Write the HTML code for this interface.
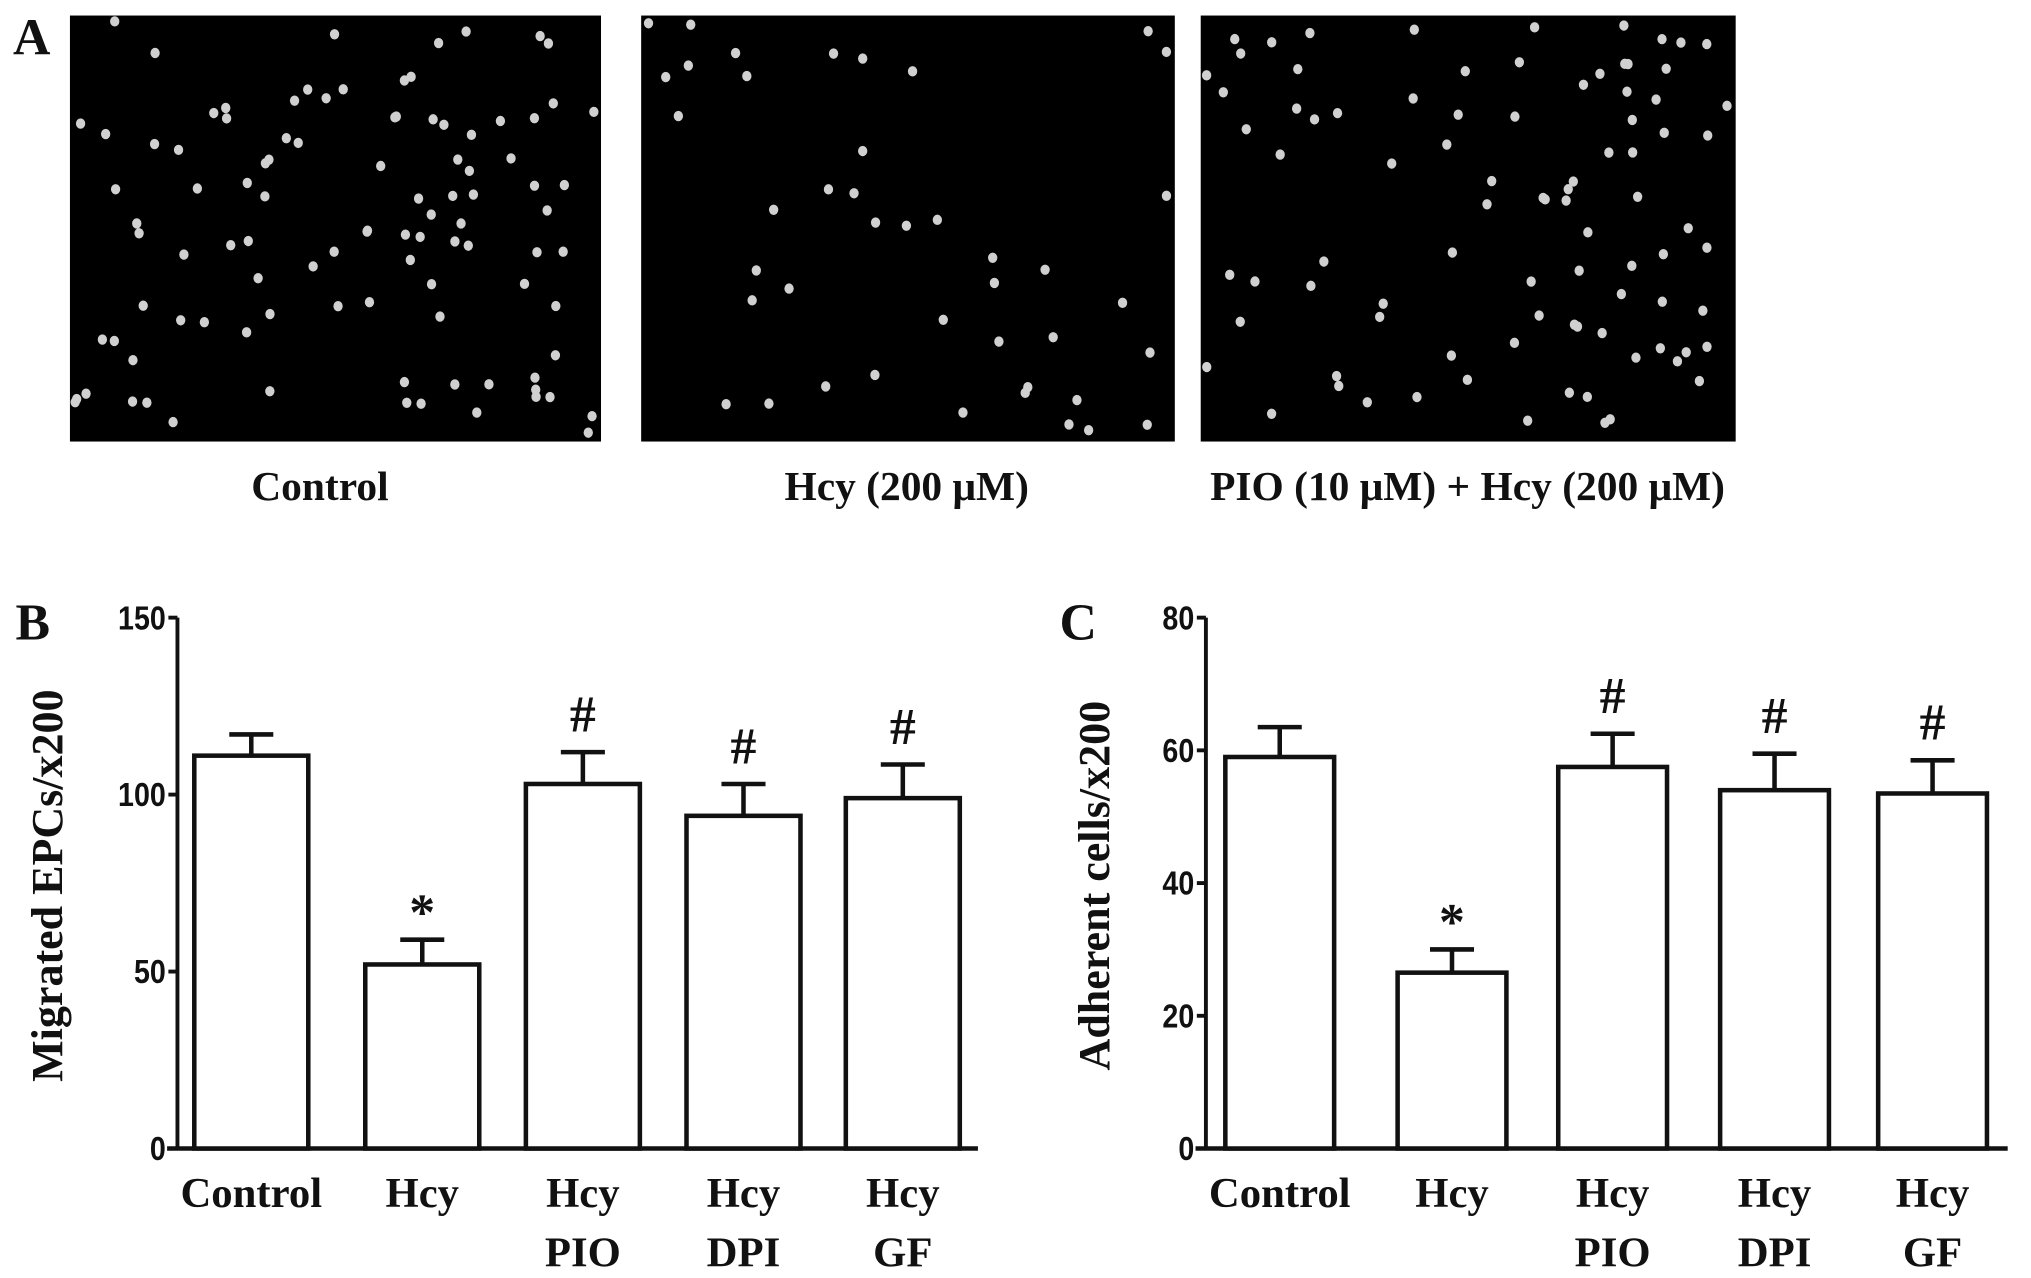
<!DOCTYPE html>
<html><head><meta charset="utf-8"><style>
html,body{margin:0;padding:0;background:#fff;}
svg{display:block;}
text{font-family:"Liberation Serif",serif;font-weight:bold;fill:#111;}
.tick{font-family:"Liberation Sans",sans-serif;font-weight:bold;font-size:26px;}
</style></head><body>
<svg id="fig" width="2031" height="1278" viewBox="0 0 1568 987" preserveAspectRatio="none" xmlns="http://www.w3.org/2000/svg">
<g id="panelA">
<text x="10" y="42" font-size="40">A</text>
<rect x="54" y="12" width="410" height="329" fill="#000"/>
<rect x="495" y="12" width="412" height="329" fill="#000"/>
<rect x="927" y="12" width="413" height="329" fill="#000"/>
<g id="dots"></g>
<text x="247" y="386" font-size="32" text-anchor="middle">Control</text>
<text x="700" y="386" font-size="32" text-anchor="middle">Hcy (200 μM)</text>
<text x="1133" y="386" font-size="32" text-anchor="middle">PIO (10 μM) + Hcy (200 μM)</text>
</g>
<g id="chartB"></g>
<g id="chartC"></g>
</svg>
<script>
const NS="http://www.w3.org/2000/svg";
const categories=["Control","Hcy","Hcy|PIO","Hcy|DPI","Hcy|GF"];
const migratedValues=[111,52,103,94,99];
const migratedErrors=[6,7,9,9,9.5];
const migratedTicks=[0,50,100,150];
const migratedMarks=["","*","#","#","#"];
const adherentValues=[59,26.5,57.5,54,53.5];
const adherentErrors=[4.5,3.5,5,5.5,5];
const adherentTicks=[0,20,40,60,80];
const adherentMarks=["","*","#","#","#"];

function mk(tag,attrs,parent){const e=document.createElementNS(NS,tag);for(const k in attrs)e.setAttribute(k,attrs[k]);parent.appendChild(e);return e;}

let seed=7;function rnd(){seed=(seed*16807)%2147483647;return seed/2147483647;}
const dg=document.getElementById('dots');
[[54,464,100],[495,907,42],[927,1340,88]].forEach(([x0,x1,n])=>{
  for(let i=0;i<n;i++){const c=mk('ellipse',{cx:x0+4+rnd()*(x1-x0-8),cy:16+rnd()*320,rx:3.6,ry:4,fill:'#d0d0d0'},dg);
  
  }
});

function chart(gid,cfg){
  const g=document.getElementById(gid);
  const ax=cfg.axisX, y0=887, yTop=477, max=cfg.ticks[cfg.ticks.length-1];
  const yS=v=>y0-(v/max)*(y0-yTop);
  const xS=i=>cfg.centers[i];
  const lab=mk('text',{x:cfg.letterX,y:494,'font-size':40},g);lab.textContent=cfg.letter;
  
  
  const yl=mk('line',{x1:ax,y1:yTop,x2:ax,y2:y0,stroke:'#111','stroke-width':3},g);
  
  
  const xl=mk('line',{x1:ax-8,y1:y0,x2:cfg.axisEnd,y2:y0,stroke:'#111','stroke-width':3.5},g);
  
  
  cfg.ticks.forEach(t=>{
    const tl=mk('line',{x1:ax-7,y1:yS(t),x2:ax,y2:yS(t),stroke:'#111','stroke-width':3},g);
    
    
    const tt=mk('text',{x:ax-9,y:yS(t)+9,'text-anchor':'end',class:'tick',transform:`translate(${ax-9} 0) scale(0.85 1) translate(${-(ax-9)} 0)`},g);
    tt.textContent=t;
    
    
  });
  const yt=mk('text',{x:0,y:0,'font-size':34,'text-anchor':'middle',transform:`translate(${cfg.titleX} 684) rotate(-90)`},g);
  yt.textContent=cfg.title;
  
  
  cfg.values.forEach((v,i)=>{
    const cx=xS(i),w=cfg.barW;
    const b=mk('rect',{x:cx-w/2,y:yS(v),width:w,height:y0-yS(v),fill:'#fff',stroke:'#111','stroke-width':3.5},g);
    
    
    const ye=yS(v+cfg.errors[i]);
    const e1=mk('line',{x1:cx,y1:yS(v),x2:cx,y2:ye,stroke:'#111','stroke-width':3.5},g);
    
    
    const e2=mk('line',{x1:cx-17,y1:ye,x2:cx+17,y2:ye,stroke:'#111','stroke-width':3.5},g);
    
    
    if(cfg.marks[i]){
      const star=cfg.marks[i]==='*';
      const m=mk('text',{x:cx,y:ye-(star?8:16),'font-size':star?40:40,'text-anchor':'middle',fill:star?'#444':'#222'},g);
      m.textContent=cfg.marks[i];
      
      
    }
    categories[i].split('|').forEach((ln,j)=>{
      const t=mk('text',{x:cx,y:932+j*46,'font-size':33,'text-anchor':'middle'},g);
      t.textContent=ln;
      
      
    });
  });
}
chart('chartB',{letter:'B',letterX:12,axisX:137,axisEnd:755,titleX:48,title:'Migrated EPCs/x200',
  centers:[194,326,450,574,697],barW:88,values:migratedValues,errors:migratedErrors,ticks:migratedTicks,marks:migratedMarks});
chart('chartC',{letter:'C',letterX:818,axisX:931,axisEnd:1550,titleX:856,title:'Adherent cells/x200',
  centers:[988,1121,1245,1370,1492],barW:84,values:adherentValues,errors:adherentErrors,ticks:adherentTicks,marks:adherentMarks});
</script>
</body></html>
